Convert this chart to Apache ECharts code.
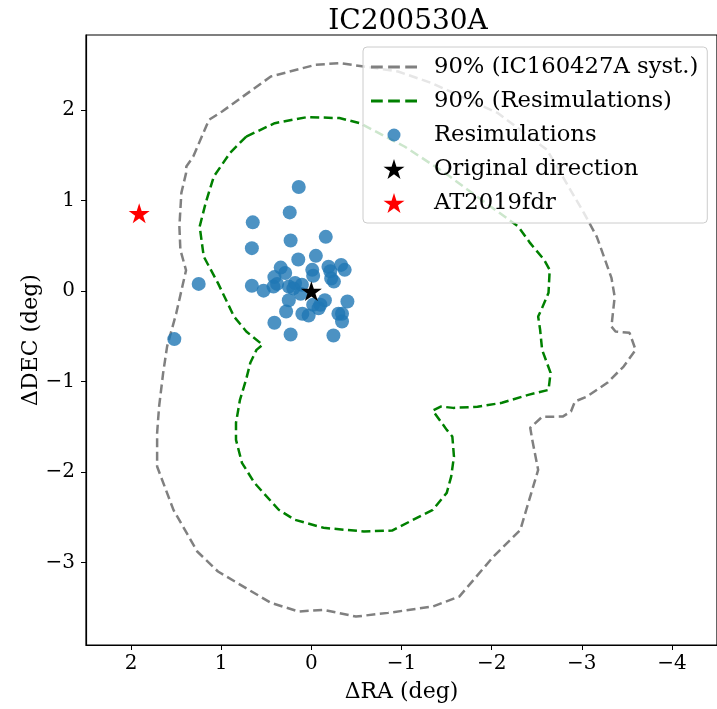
<!DOCTYPE html>
<html>
<head>
<meta charset="utf-8">
<title>IC200530A</title>
<script src="https://cdn.jsdelivr.net/npm/echarts@6/dist/echarts.min.js"></script>
<style>
  html, body { margin: 0; padding: 0; background: #ffffff; }
  #chart { width: 717px; height: 709px; }
</style>
</head>
<body>
<div id="chart"></div>
<script>
// Tick positions (degrees)
const raTicks = [2, 1, 0, -1, -2, -3, -4];
const decTicks = [2, 1, 0, -1, -2, -3];

// 90% contour of IC160427A including systematics: [dRA, dDEC]
const systContour = [
  [1.31, 1.487], [1.136, 1.893], [0.99, 1.985], [0.45, 2.371], [-0.043, 2.50],
  [-0.311, 2.519], [-0.583, 2.482], [-0.961, 2.427], [-1.325, 2.302], [-2.064, 1.970],
  [-2.615, 1.561], [-3.023, 0.865], [-3.167, 0.60], [-3.329, 0.147], [-3.365, -0.063],
  [-3.329, -0.391], [-3.374, -0.446], [-3.53, -0.461], [-3.597, -0.649], [-3.464, -0.833],
  [-3.283, -1.013], [-3.056, -1.165], [-2.924, -1.22], [-2.88, -1.33], [-2.788, -1.386],
  [-2.56, -1.389], [-2.428, -1.51], [-2.45, -1.64], [-2.516, -1.975], [-2.318, -2.638],
  [-2.02, -2.933], [-1.641, -3.375], [-1.347, -3.485], [-0.851, -3.555], [-0.494, -3.596],
  [-0.135, -3.522], [0.141, -3.54], [0.45, -3.444], [1.036, -3.098], [1.266, -2.877],
  [1.53, -2.417], [1.711, -1.938], [1.711, -1.566], [1.689, -1.275], [1.644, -0.903],
  [1.60, -0.61], [1.50, -0.25], [1.42, 0.10], [1.39, 0.23], [1.453, 0.456],
  [1.464, 0.714], [1.442, 1.086], [1.39, 1.304], [1.387, 1.377], [1.31, 1.487]
];

// 90% contour from the resimulations: [dRA, dDEC]
const resimContour = [
  [0.722, 1.708], [0.406, 1.856], [0.046, 1.923], [-0.311, 1.912], [-0.538, 1.856],
  [-1.033, 1.598], [-1.48, 1.307], [-1.932, 0.976], [-2.295, 0.714], [-2.428, 0.530],
  [-2.582, 0.346], [-2.644, 0.235], [-2.631, -0.019], [-2.56, -0.185], [-2.516, -0.281],
  [-2.538, -0.428], [-2.56, -0.649], [-2.654, -0.903], [-2.631, -1.091], [-2.406, -1.146],
  [-2.114, -1.234], [-1.843, -1.278], [-1.573, -1.29], [-1.435, -1.275], [-1.347, -1.319],
  [-1.502, -1.533], [-1.564, -1.607], [-1.582, -1.828], [-1.551, -2.049], [-1.502, -2.229],
  [-1.347, -2.417], [-0.895, -2.645], [-0.583, -2.656], [-0.135, -2.615], [0.185, -2.526],
  [0.362, -2.416], [0.632, -2.118], [0.77, -1.897], [0.836, -1.643], [0.836, -1.455],
  [0.792, -1.201], [0.725, -0.980], [0.677, -0.792], [0.609, -0.649], [0.541, -0.593],
  [0.722, -0.446], [0.858, -0.281], [1.036, 0.088], [1.194, 0.382], [1.239, 0.714],
  [1.172, 0.976], [1.082, 1.266], [0.902, 1.528], [0.722, 1.708]
];

// Best-fit directions of the resimulated events
const resimRA = [
  0.14, 0.24, 0.65, 0.23, -0.16, 0.66, 0.145, -0.05, 0.34, 0.29,
  -0.01, -0.19, -0.21, -0.33, -0.37, -0.25, -0.22, 0.41, 0.42, 0.66,
  0.53, 1.25, 1.52, 0.25, 0.18, 0.105, 0.20, 0.12, 0.25, -0.15,
  -0.40, -0.02, -0.10, -0.08, 0.28, 0.10, 0.03, -0.30, -0.34, -0.34,
  0.41, 0.23, -0.245, 0.38, -0.02
];
const resimDEC = [
  1.15, 0.87, 0.76, 0.56, 0.60, 0.475, 0.35, 0.39, 0.26, 0.20,
  0.235, 0.27, 0.22, 0.29, 0.235, 0.105, 0.14, 0.155, 0.05, 0.06,
  0.005, 0.08, -0.53, 0.05, 0.09, 0.07, 0.03, -0.03, -0.10, -0.10,
  -0.115, -0.15, -0.15, -0.19, -0.225, -0.25, -0.27, -0.25, -0.25, -0.335,
  -0.35, -0.48, -0.49, 0.08, 0.17
];

const originalDirection = [0, 0];
const at2019fdr = [1.91, 0.86];

const FONT = 'DejaVu Serif';
const STAR = 'path://M0,-1 L0.2245,-0.309 L0.951,-0.309 L0.363,0.118 L0.588,0.809 L0,0.382 L-0.588,0.809 L-0.363,0.118 L-0.951,-0.309 L-0.2245,-0.309 Z';
const DASH_ICON = 'path://M0,0h11v2.6h-11z M16,0h11v2.6h-11z M32,0h11v2.6h-11z';
const DOT_ICON = 'path://M-10,-10 L-10,-10 M10,10 L10,10 M6.5,0 A6.5,6.5 0 1,1 -6.5,0 A6.5,6.5 0 1,1 6.5,0 Z';

const minusFmt = v => String(v).replace('-', '\u2212');
const resimPoints = resimRA.map((ra, i) => [ra, resimDEC[i]]);

const chart = echarts.init(document.getElementById('chart'), null, { renderer: 'canvas' });

chart.setOption({
  animation: false,
  backgroundColor: '#ffffff',
  title: {
    text: 'IC200530A',
    left: 403,
    textAlign: 'center',
    top: 3,
    textStyle: { fontFamily: FONT, fontSize: 28, fontWeight: 'normal', color: '#000' }
  },
  grid: {
    left: 86, top: 35, right: -4, bottom: 64,
    show: true, borderColor: '#000', borderWidth: 1.2, backgroundColor: 'transparent'
  },
  xAxis: {
    type: 'value',
    inverse: true,
    min: -4.5, max: 2.5,
    name: '\u0394RA (deg)',
    nameLocation: 'middle',
    nameGap: 36,
    nameMoveOverlap: false,
    nameTextStyle: { fontFamily: FONT, fontSize: 22, color: '#000' },
    axisLine: { show: true, onZero: false, lineStyle: { color: '#000', width: 1.2 } },
    axisTick: { show: true, inside: false, length: 5, customValues: raTicks, lineStyle: { color: '#000', width: 1 } },
    axisLabel: { customValues: raTicks, formatter: minusFmt, margin: 9, fontFamily: FONT, fontSize: 20, color: '#000' },
    splitLine: { show: false }
  },
  yAxis: {
    type: 'value',
    min: -3.91, max: 2.83,
    name: '\u0394DEC (deg)',
    nameLocation: 'middle',
    nameGap: 44,
    nameMoveOverlap: false,
    nameTextStyle: { fontFamily: FONT, fontSize: 22, color: '#000' },
    axisLine: { show: true, onZero: false, lineStyle: { color: '#000', width: 1.2 } },
    axisTick: { show: true, inside: false, length: 5, customValues: decTicks, lineStyle: { color: '#000', width: 1 } },
    axisLabel: { customValues: decTicks, formatter: minusFmt, margin: 11, fontFamily: FONT, fontSize: 20, color: '#000' },
    splitLine: { show: false }
  },
  legend: {
    orient: 'vertical',
    left: 363, top: 47,
    padding: [8, 9, 8, 8],
    itemWidth: 46, itemHeight: 20, itemGap: 10,
    symbolKeepAspect: true,
    backgroundColor: 'rgba(255,255,255,0.8)',
    borderColor: '#cccccc', borderWidth: 1, borderRadius: 4,
    textStyle: { fontFamily: FONT, fontSize: 22.7, color: '#000', lineHeight: 24, padding: [0, 0, 0, 12] },
    selectedMode: false,
    data: [
      { name: '90% (IC160427A syst.)', icon: DASH_ICON },
      { name: '90% (Resimulations)', icon: DASH_ICON },
      { name: 'Resimulations', icon: DOT_ICON },
      { name: 'Original direction', icon: STAR, itemStyle: { opacity: 1 } },
      { name: 'AT2019fdr', icon: STAR, itemStyle: { opacity: 1 } }
    ]
  },
  series: [
    {
      name: '90% (IC160427A syst.)',
      type: 'line',
      data: systContour,
      symbol: 'none',
      showSymbol: false,
      color: '#808080',
      itemStyle: { color: '#808080' },
      lineStyle: { color: '#808080', width: 2.5, type: [9, 4.5] },
      z: 2
    },
    {
      name: '90% (Resimulations)',
      type: 'line',
      data: resimContour,
      symbol: 'none',
      showSymbol: false,
      color: '#008000',
      itemStyle: { color: '#008000' },
      lineStyle: { color: '#008000', width: 2.5, type: [9, 4.5] },
      z: 2
    },
    {
      name: 'Resimulations',
      type: 'scatter',
      data: resimPoints,
      symbol: 'circle',
      symbolSize: 14,
      itemStyle: { color: '#1f77b4', opacity: 0.8 },
      z: 3
    },
    {
      name: 'Original direction',
      type: 'scatter',
      data: [originalDirection],
      symbol: STAR,
      symbolSize: 21,
      symbolKeepAspect: true,
      itemStyle: { color: '#000000', opacity: 1 },
      z: 3
    },
    {
      name: 'AT2019fdr',
      type: 'scatter',
      data: [at2019fdr],
      symbol: STAR,
      symbolSize: 21,
      symbolKeepAspect: true,
      itemStyle: { color: '#ff0000', opacity: 1 },
      z: 3
    }
  ]
});
</script>
</body>
</html>
